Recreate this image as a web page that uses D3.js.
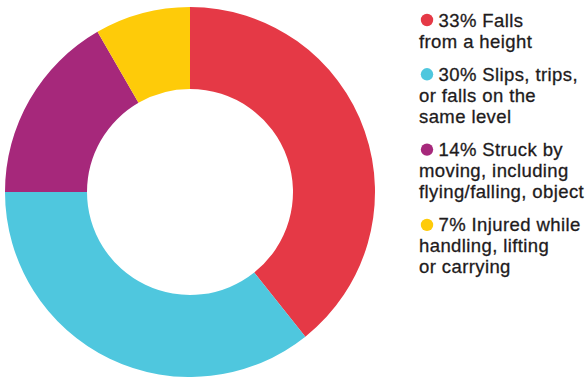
<!doctype html>
<html>
  <head>
    <meta charset="utf-8">
    <title>Injury causes donut</title>
    <script src="https://cdnjs.cloudflare.com/ajax/libs/d3/7.8.5/d3.min.js"></script>
    <style>
      body { margin: 0; background: #fff; }
      svg text { font-family: "Liberation Sans", Arial, sans-serif; fill: #1e1b1c; stroke: #1e1b1c; stroke-width: 0.3px; }
    </style>
  </head>
  <body>
    <div id="chart"></div>
    <script>
      // data
      const categories = ['Falls from a height', 'Slips, trips, or falls on the same level',
        'Struck by moving, including flying/falling, object', 'Injured while handling, lifting or carrying'];
      const values = [33, 30, 14, 7];
      const colors = ['#e53946', '#4fc7de', '#a6287b', '#fecb09'];
      // legend text split into lines as in the original
      const legendLines = [
        ['33% Falls', 'from a height'],
        ['30% Slips, trips,', 'or falls on the', 'same level'],
        ['14% Struck by', 'moving, including', 'flying/falling, object'],
        ['7% Injured while', 'handling, lifting', 'or carrying']
      ];

      const width = 587, height = 377;
      const svg = d3.select('#chart').append('svg')
        .attr('width', width)
        .attr('height', height);

      const pie = d3.pie().sort(null);
      const arc = d3.arc().innerRadius(103).outerRadius(185);

      svg.append('g')
        .attr('transform', 'translate(190,192)')
        .selectAll('path')
        .data(pie(values))
        .join('path')
        .attr('d', arc)
        .attr('fill', (d, i) => colors[i]);

      // legend
      const lineH = 21, itemGap = 12.3;
      let y = 26.5;
      const legend = svg.append('g');
      legendLines.forEach((lines, i) => {
        legend.append('circle')
          .attr('cx', 427)
          .attr('cy', y - 6.5)
          .attr('r', 6.2)
          .attr('fill', colors[i]);
        lines.forEach((t, j) => {
          legend.append('text')
            .attr('x', j === 0 ? 438.5 : 419)
            .attr('y', y + j * lineH)
            .style('font-size', '18.5px')
            .style('letter-spacing', '0.4px')
            .text(t);
        });
        y += lines.length * lineH + itemGap;
      });
    </script>
  </body>
</html>
